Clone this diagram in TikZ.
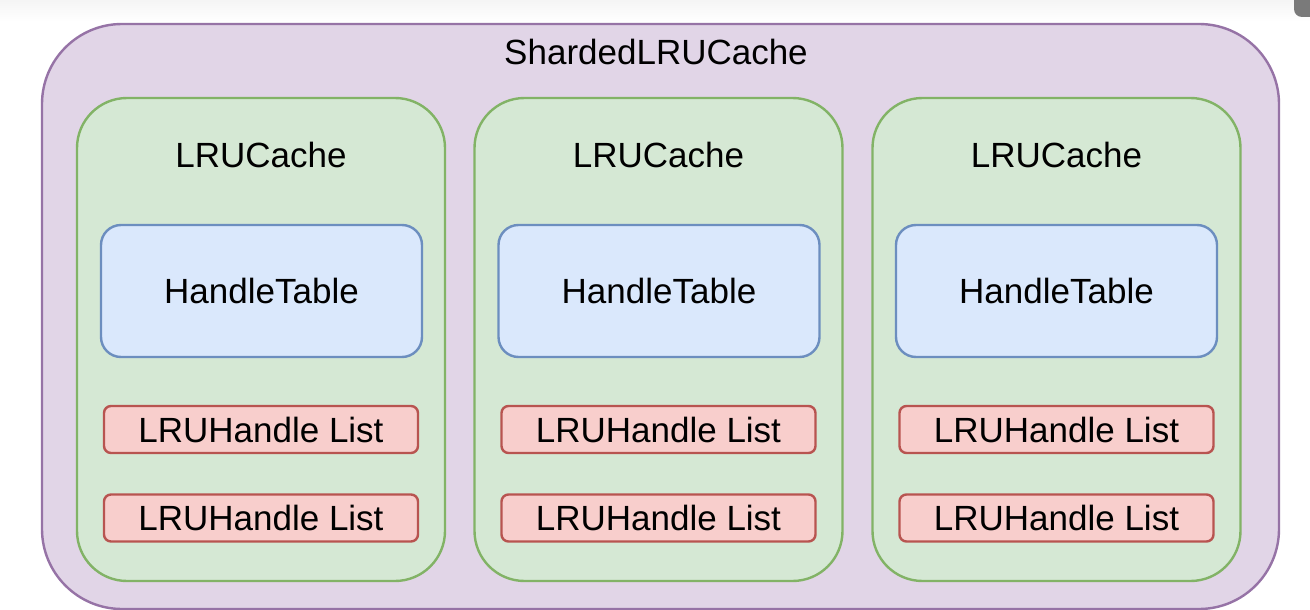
\documentclass[tikz,border=0pt]{standalone}
\usepackage{fontspec}
\setmainfont{Liberation Sans}
\definecolor{purplefill}{HTML}{E1D5E7}
\definecolor{purpledraw}{HTML}{9673A6}
\definecolor{greenfill}{HTML}{D5E8D4}
\definecolor{greendraw}{HTML}{82B366}
\definecolor{bluefill}{HTML}{DAE8FC}
\definecolor{bluedraw}{HTML}{6C8EBF}
\definecolor{redfill}{HTML}{F8CECC}
\definecolor{reddraw}{HTML}{B85450}
\definecolor{topgray}{HTML}{F5F5F5}
\definecolor{barcol}{HTML}{7A7A7A}
\tikzset{
  base/.style={rectangle, line width=2.4pt, inner sep=0pt, outer sep=0pt},
  outerbox/.style={base, draw=purpledraw, fill=purplefill, rounded corners=80pt,
    minimum width=1237pt, minimum height=585pt},
  cachebox/.style={base, draw=greendraw, fill=greenfill, rounded corners=50pt,
    minimum width=368pt, minimum height=483pt},
  tablebox/.style={base, draw=bluedraw, fill=bluefill, rounded corners=20pt,
    minimum width=321pt, minimum height=132pt, font=\fontsize{35}{40}\selectfont},
  listbox/.style={base, draw=reddraw, fill=redfill, rounded corners=7pt,
    minimum width=314pt, minimum height=47pt, font=\fontsize{35}{40}\selectfont},
  lbl/.style={inner sep=0pt, font=\fontsize{35}{40}\selectfont},
}
\begin{document}
\begin{tikzpicture}[x=1pt, y=-1pt]
\useasboundingbox (0,0) rectangle (1310,610);
\fill[white] (0,0) rectangle (1310,610);
\shade[top color=topgray, bottom color=white] (0,0) rectangle (1310,22);
\fill[barcol, rounded corners=8pt] (1294,-10) rectangle (1318,17);

\node[outerbox] (outer) at (660.5,316.5) {};
\node[lbl] (outerlbl) at (656,52) {ShardedLRUCache};

\foreach \i/\cx/\bx in {1/261/261.5, 2/658.5/659, 3/1056.5/1056.5} {
  \node[cachebox] (cache\i) at (\cx,339.5) {};
  \node[lbl] (cachelbl\i) at (\cx,155) {LRUCache};
  \node[tablebox] (table\i) at (\bx,291) {HandleTable};
  \node[listbox] (lista\i) at (\cx,429.5) {LRUHandle List};
  \node[listbox] (listb\i) at (\cx,518) {LRUHandle List};
}
\end{tikzpicture}
\end{document}
